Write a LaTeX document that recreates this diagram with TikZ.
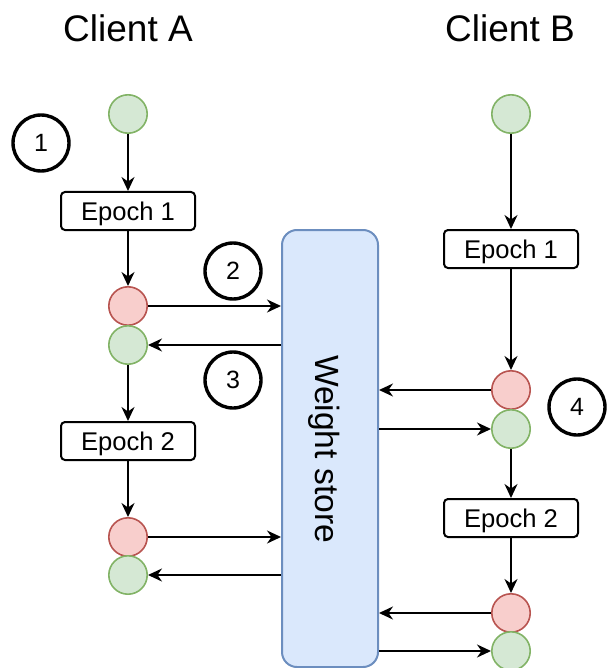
\documentclass[tikz,border=0pt]{standalone}
\usepackage{fontspec}
\setmainfont{Liberation Sans}
\usetikzlibrary{arrows.meta}
\usetikzlibrary{calc}

\definecolor{greenfill}{HTML}{D5E8D4}
\definecolor{greenline}{HTML}{82B366}
\definecolor{redfill}{HTML}{F8CECC}
\definecolor{redline}{HTML}{B85450}
\definecolor{storefill}{HTML}{DAE8FC}
\definecolor{storeline}{HTML}{6C8EBF}

\begin{document}
\begin{tikzpicture}
	[x=0.5pt,y=-0.5pt,line width=1pt,
	%Styles
	arrow/.style={-{Stealth[length=7pt,width=6.5pt]}},
	weights/.style={circle,minimum size=19.2pt,inner sep=0pt,line width=0.8pt},
	fresh/.style={weights,fill=greenfill,draw=greenline},
	trained/.style={weights,fill=redfill,draw=redline},
	epoch/.style={draw,rounded corners=2pt,minimum width=67pt,minimum height=19pt,inner sep=0pt,text depth=0pt,font=\fontsize{12.8}{15}\selectfont},
	marker/.style={circle,draw,line width=1.7pt,minimum size=28pt,inner sep=0pt,font=\fontsize{12.5}{15}\selectfont},
	client/.style={font=\fontsize{18.5}{22}\selectfont}
	]

	\useasboundingbox (0,0) rectangle (607,668);

	%The store
	\node[draw=storeline,fill=storefill,rounded corners=7.5pt,minimum width=48pt,minimum height=218.5pt,inner sep=0pt] (store) at (330,448.5) {};
	\node[rotate=-90,text depth=0pt,font=\fontsize{16.8}{20}\selectfont] (storetext) at (328,449) {Weight store};

	%Client A
	\node[client] (clientA) at (128,28) {Client A};
	\node[fresh] (startA) at (128,114) {};
	\node[epoch] (epochA1) at (128,211) {Epoch 1};
	\node[trained] (redA1) at (128,306) {};
	\node[fresh] (greenA1) at (128,345) {};
	\node[epoch] (epochA2) at (128,441) {Epoch 2};
	\node[trained] (redA2) at (128,537) {};
	\node[fresh] (greenA2) at (128,575) {};

	\draw[arrow] (startA) -- (epochA1);
	\draw[arrow] (epochA1) -- (redA1);
	\draw[arrow] (greenA1) -- (epochA2);
	\draw[arrow] (epochA2) -- (redA2);
	\draw[arrow] (redA1) -- (redA1 -| store.west);
	\draw[arrow] (store.west |- greenA1) -- (greenA1);
	\draw[arrow] (redA2) -- (redA2 -| store.west);
	\draw[arrow] (store.west |- greenA2) -- (greenA2);

	%Client B
	\node[client] (clientB) at (510,28) {Client B};
	\node[fresh] (startB) at (511,114) {};
	\node[epoch] (epochB1) at (511,249) {Epoch 1};
	\node[trained] (redB1) at (511,390) {};
	\node[fresh] (greenB1) at (511,429) {};
	\node[epoch] (epochB2) at (511,518) {Epoch 2};
	\node[trained] (redB2) at (511,613) {};
	\node[fresh] (greenB2) at (511,651) {};

	\draw[arrow] (startB) -- (epochB1);
	\draw[arrow] (epochB1) -- (redB1);
	\draw[arrow] (greenB1) -- (epochB2);
	\draw[arrow] (epochB2) -- (redB2);
	\draw[arrow] (redB1) -- (redB1 -| store.east);
	\draw[arrow] (store.east |- greenB1) -- (greenB1);
	\draw[arrow] (redB2) -- (redB2 -| store.east);
	\draw[arrow] (store.east |- greenB2) -- (greenB2);

	%Step markers
	\node[marker] (one) at (41,143) {1};
	\node[marker] (two) at (233,271) {2};
	\node[marker] (three) at (233,380) {3};
	\node[marker] (four) at (577,407) {4};
\end{tikzpicture}
\end{document}
